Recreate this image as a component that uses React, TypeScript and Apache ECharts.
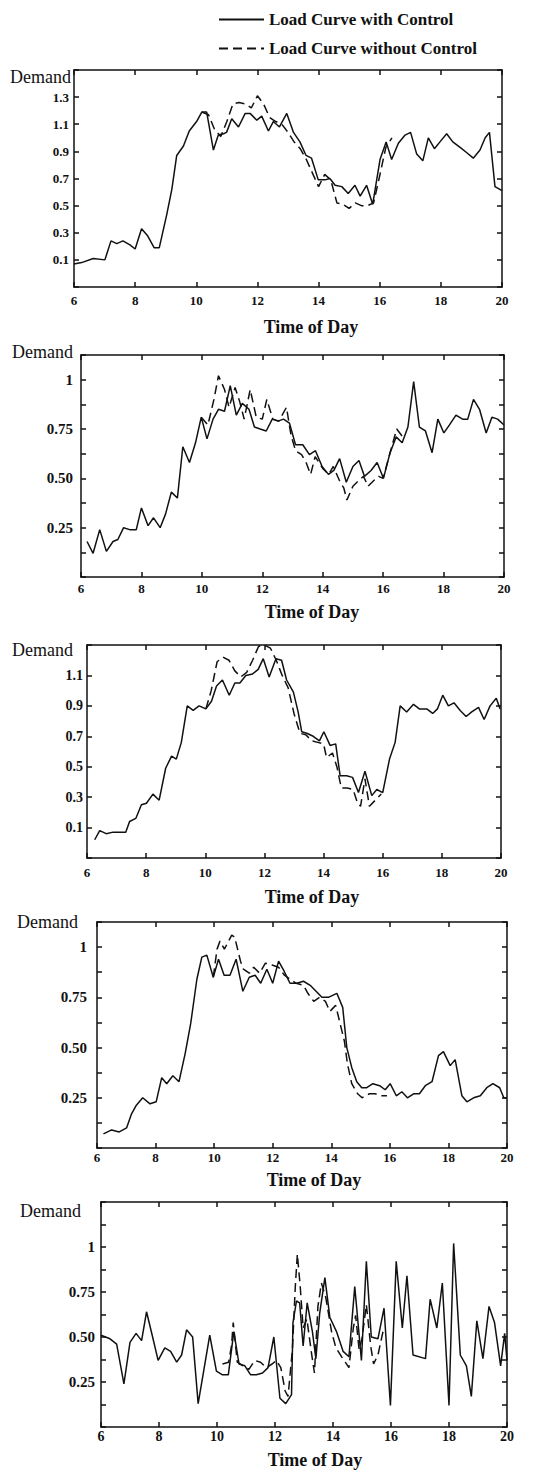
import React, { useEffect, useRef } from "react";
import * as echarts from "echarts";

// ---------- data (hours, demand) ----------
const p1SolidT = [6.0,6.25,6.63,7.01,7.21,7.4,7.6,7.83,8.0,8.21,8.4,8.62,8.79,9.03,9.2,9.36,9.58,9.77,10.01,10.18,10.34,10.56,10.72,10.89,10.99,11.16,11.38,11.6,11.76,11.98,12.14,12.36,12.52,12.72,12.96,13.18,13.39,13.59,13.77,13.99,14.21,14.37,14.54,14.76,14.97,15.19,15.36,15.57,15.77,16.01,16.21,16.39,16.61,16.83,17.01,17.21,17.41,17.59,17.79,17.97,18.19,18.39,18.63,18.85,19.06,19.28,19.45,19.59,19.77,20.0];
const p1SolidV = [0.07,0.08,0.11,0.10,0.24,0.22,0.24,0.21,0.18,0.33,0.28,0.19,0.19,0.43,0.62,0.87,0.94,1.05,1.12,1.19,1.19,0.91,1.02,1.03,1.04,1.14,1.08,1.18,1.18,1.13,1.16,1.05,1.12,1.08,1.18,1.04,0.97,0.87,0.85,0.69,0.69,0.70,0.65,0.64,0.59,0.65,0.57,0.65,0.51,0.84,0.97,0.84,0.96,1.02,1.04,0.88,0.83,1.0,0.92,0.97,1.03,0.97,0.93,0.89,0.85,0.91,1.0,1.04,0.64,0.61];
const p1DashT = [10.18,10.4,10.6,10.8,11.0,11.2,11.4,11.6,11.8,12.0,12.2,12.4,12.6,12.8,13.0,13.2,13.4,13.6,13.8,14.0,14.2,14.4,14.6,14.8,15.0,15.2,15.4,15.6,15.8,16.0,16.2,16.4];
const p1DashV = [1.19,1.17,1.06,1.01,1.12,1.25,1.26,1.25,1.22,1.31,1.25,1.15,1.12,1.1,1.04,0.97,0.92,0.84,0.74,0.64,0.73,0.69,0.52,0.51,0.48,0.52,0.5,0.5,0.52,0.72,0.93,1.0];

const p2SolidT = [6.2,6.4,6.62,6.84,7.06,7.22,7.41,7.61,7.83,8.0,8.22,8.4,8.62,8.8,8.99,9.19,9.37,9.59,9.79,9.98,10.17,10.37,10.55,10.75,10.94,11.14,11.34,11.56,11.74,11.93,12.13,12.33,12.52,12.7,12.9,13.1,13.34,13.56,13.76,13.98,14.19,14.37,14.56,14.78,15.0,15.2,15.38,15.6,15.8,16.01,16.23,16.43,16.63,16.82,17.01,17.2,17.4,17.62,17.81,18.01,18.19,18.41,18.63,18.8,18.99,19.19,19.41,19.6,19.79,20.0];
const p2SolidV = [0.18,0.12,0.24,0.13,0.18,0.19,0.25,0.24,0.24,0.35,0.26,0.30,0.25,0.32,0.43,0.40,0.66,0.58,0.68,0.81,0.70,0.80,0.85,0.84,0.97,0.82,0.88,0.85,0.76,0.75,0.74,0.80,0.79,0.80,0.78,0.67,0.67,0.62,0.64,0.56,0.52,0.54,0.60,0.48,0.56,0.59,0.51,0.54,0.58,0.50,0.63,0.71,0.68,0.76,0.99,0.76,0.74,0.63,0.80,0.73,0.77,0.82,0.80,0.80,0.90,0.85,0.73,0.81,0.80,0.77];
const p2DashT = [9.98,10.2,10.4,10.55,10.75,10.9,11.1,11.25,11.4,11.6,11.8,12.0,12.15,12.35,12.55,12.8,12.95,13.1,13.3,13.45,13.6,13.75,14.0,14.2,14.35,14.55,14.7,14.8,15.0,15.2,15.35,15.5,15.7,15.85,16.0,16.23,16.45,16.65];
const p2DashV = [0.81,0.77,0.9,1.02,0.95,0.86,0.96,0.89,0.80,0.95,0.81,0.80,0.90,0.80,0.79,0.86,0.72,0.64,0.62,0.58,0.52,0.61,0.55,0.52,0.56,0.49,0.45,0.39,0.46,0.49,0.51,0.46,0.49,0.51,0.50,0.63,0.75,0.71];

const p3SolidT = [6.26,6.43,6.65,6.88,7.1,7.31,7.44,7.65,7.84,8.01,8.23,8.44,8.66,8.86,9.02,9.19,9.39,9.59,9.79,10.02,10.21,10.38,10.58,10.81,11.0,11.17,11.37,11.6,11.79,11.96,12.16,12.39,12.58,12.75,12.98,13.14,13.26,13.43,13.65,13.86,14.01,14.22,14.41,14.56,14.78,14.98,15.18,15.4,15.63,15.8,16.0,16.23,16.42,16.59,16.81,17.04,17.24,17.49,17.69,17.85,18.03,18.22,18.41,18.62,18.82,19.01,19.24,19.43,19.63,19.84,19.97];
const p3SolidV = [0.02,0.08,0.06,0.07,0.07,0.07,0.14,0.16,0.25,0.26,0.32,0.28,0.49,0.57,0.55,0.66,0.9,0.87,0.9,0.88,0.93,1.03,1.07,0.97,1.05,1.05,1.1,1.11,1.14,1.21,1.09,1.21,1.2,1.07,0.99,0.86,0.73,0.72,0.7,0.67,0.73,0.64,0.65,0.44,0.44,0.43,0.33,0.47,0.31,0.35,0.33,0.55,0.66,0.9,0.86,0.91,0.88,0.88,0.85,0.88,0.97,0.9,0.92,0.87,0.83,0.86,0.89,0.81,0.9,0.95,0.88];
const p3DashT = [10.02,10.2,10.4,10.6,10.8,11.0,11.2,11.4,11.6,11.8,12.0,12.2,12.4,12.6,12.8,13.0,13.2,13.4,13.6,13.8,14.0,14.1,14.3,14.45,14.6,14.8,15.0,15.15,15.25,15.4,15.55,15.75,15.95];
const p3DashV = [0.88,1.0,1.19,1.22,1.2,1.13,1.09,1.12,1.2,1.29,1.3,1.28,1.2,1.1,1.02,0.85,0.72,0.71,0.67,0.66,0.65,0.56,0.59,0.5,0.36,0.36,0.35,0.26,0.24,0.42,0.24,0.28,0.32];

const p4SolidT = [6.22,6.5,6.76,7.01,7.18,7.33,7.56,7.81,8.02,8.21,8.38,8.59,8.8,9.01,9.2,9.41,9.58,9.75,9.97,10.15,10.34,10.54,10.75,10.98,11.2,11.4,11.59,11.8,12.0,12.2,12.39,12.59,12.82,13.05,13.28,13.48,13.68,13.9,14.19,14.39,14.53,14.7,14.87,15.04,15.21,15.42,15.65,15.84,16.01,16.22,16.41,16.6,16.81,17.01,17.21,17.44,17.66,17.83,18.06,18.23,18.46,18.63,18.86,19.09,19.31,19.52,19.75,19.89,20.0];
const p4SolidV = [0.07,0.09,0.08,0.10,0.17,0.21,0.25,0.22,0.23,0.35,0.32,0.36,0.33,0.47,0.62,0.84,0.95,0.96,0.85,0.94,0.86,0.86,0.94,0.78,0.85,0.86,0.82,0.89,0.82,0.93,0.88,0.82,0.82,0.83,0.81,0.78,0.75,0.75,0.77,0.70,0.5,0.40,0.33,0.30,0.30,0.32,0.31,0.29,0.32,0.26,0.28,0.25,0.27,0.27,0.31,0.33,0.46,0.48,0.41,0.44,0.26,0.23,0.25,0.26,0.30,0.32,0.30,0.25,0.25];
const p4DashT = [9.97,10.1,10.2,10.35,10.6,10.7,10.9,11.0,11.2,11.35,11.55,11.75,12.0,12.2,12.4,12.6,12.8,13.05,13.2,13.4,13.6,13.8,13.95,14.15,14.3,14.45,14.55,14.7,14.9,15.05,15.3,15.5,15.7,15.9];
const p4DashV = [0.85,0.99,1.03,0.99,1.06,1.05,0.93,0.89,0.87,0.9,0.87,0.92,0.91,0.9,0.86,0.84,0.82,0.81,0.77,0.73,0.75,0.73,0.68,0.71,0.62,0.53,0.42,0.32,0.27,0.25,0.27,0.27,0.26,0.26];

const p5SolidT = [6.0,6.31,6.54,6.79,7.0,7.21,7.4,7.57,7.78,7.97,8.2,8.4,8.61,8.78,8.95,9.16,9.35,9.55,9.75,9.98,10.19,10.39,10.58,10.76,10.96,11.16,11.36,11.57,11.76,11.96,12.17,12.37,12.57,12.62,12.74,12.85,12.97,13.11,13.29,13.41,13.54,13.72,13.89,14.12,14.35,14.55,14.75,14.98,15.15,15.32,15.55,15.76,15.98,16.18,16.39,16.55,16.76,17.19,17.35,17.58,17.77,18.0,18.16,18.39,18.6,18.77,18.96,19.17,19.38,19.57,19.78,19.92,20.0];
const p5SolidV = [0.51,0.49,0.46,0.24,0.47,0.52,0.48,0.64,0.50,0.37,0.44,0.42,0.36,0.40,0.54,0.50,0.13,0.32,0.51,0.31,0.29,0.29,0.53,0.35,0.34,0.29,0.29,0.30,0.33,0.50,0.16,0.13,0.18,0.58,0.70,0.69,0.45,0.69,0.53,0.38,0.63,0.83,0.61,0.53,0.42,0.39,0.78,0.37,0.92,0.50,0.49,0.66,0.12,0.92,0.55,0.84,0.40,0.38,0.71,0.55,0.80,0.12,1.02,0.40,0.34,0.17,0.59,0.38,0.67,0.58,0.34,0.52,0.37];
const p5DashT = [10.19,10.4,10.5,10.56,10.7,10.9,11.1,11.3,11.5,11.7,11.9,12.05,12.2,12.35,12.45,12.6,12.7,12.77,12.87,12.97,13.1,13.25,13.36,13.48,13.6,13.75,13.95,14.1,14.3,14.55,14.7,14.78,14.9,15.0,15.15,15.3,15.4,15.55,15.75];
const p5DashV = [0.35,0.36,0.45,0.58,0.36,0.34,0.32,0.37,0.36,0.33,0.35,0.37,0.33,0.2,0.17,0.43,0.78,0.96,0.78,0.55,0.6,0.42,0.3,0.67,0.8,0.72,0.53,0.44,0.39,0.33,0.55,0.62,0.43,0.49,0.68,0.45,0.35,0.4,0.55];

const SOLID_NAME = "Load Curve with Control";
const DASH_NAME = "Load Curve without Control";
const X_TITLE = "Time of Day";
const Y_TITLE = "Demand";
const xTicks = { min: 6, max: 20, interval: 2 };

// ---------- layout / style ----------
const FONT = '"Liberation Serif", "Times New Roman", serif';
const INK = "#111";

const panels = [
  { left: 74, top: 70, width: 428, height: 217, yMin: -0.1, yMax: 1.5, yInt: 0.2, kind: "odd", yFont: 13, yMargin: 5, xMargin: 7, xFont: 13, demand: [10, 78], tod: [311, 327], solid: [p1SolidT, p1SolidV], dash: [p1DashT, p1DashV] },
  { left: 81, top: 355, width: 423, height: 222, yMin: 0, yMax: 1.125, yInt: 0.125, kind: "quarter", yFont: 15, yMargin: 8, xMargin: 5, xFont: 13, demand: [12, 353], tod: [312, 612], solid: [p2SolidT, p2SolidV], dash: [p2DashT, p2DashV] },
  { left: 87, top: 645, width: 414, height: 213, yMin: -0.1, yMax: 1.3, yInt: 0.2, kind: "odd", yFont: 14, yMargin: 4, xMargin: 8, xFont: 13, demand: [12, 651], tod: [312, 897], solid: [p3SolidT, p3SolidV], dash: [p3DashT, p3DashV] },
  { left: 97, top: 922, width: 410, height: 226, yMin: 0, yMax: 1.125, yInt: 0.125, kind: "quarter", yFont: 15, yMargin: 10, xMargin: 3, xFont: 13, demand: [17, 923], tod: [314, 1180], solid: [p4SolidT, p4SolidV], dash: [p4DashT, p4DashV] },
  { left: 101, top: 1202, width: 406, height: 225, yMin: 0, yMax: 1.25, yInt: 0.125, kind: "quarter", yFont: 15, yMargin: 6, xMargin: 2, xFont: 14, demand: [20, 1212], tod: [315, 1460], solid: [p5SolidT, p5SolidV], dash: [p5DashT, p5DashV] },
];

const quarterLabels: Record<string, string> = { "0.25": "0.25", "0.5": "0.50", "0.75": "0.75", "1": "1" };

function pairs(t: number[], v: number[]) {
  return t.map((x, i) => [x, v[i]]);
}

function buildOption() {
  const grid: any[] = [];
  const xAxis: any[] = [];
  const yAxis: any[] = [];
  const series: any[] = [];
  const graphic: any[] = [];

  panels.forEach((p, i) => {
    grid.push({ left: p.left, top: p.top, width: p.width, height: p.height, containLabel: false });
    const line = { show: true, onZero: false, lineStyle: { color: INK, width: 1.5 } };
    const tick = { show: true, inside: true, length: 5, lineStyle: { color: INK, width: 1.5 } };
    xAxis.push({
      type: "value", gridIndex: i, position: "bottom", ...xTicks,
      axisLine: line, axisTick: tick, splitLine: { show: false },
      axisLabel: { margin: p.xMargin, color: INK, fontFamily: FONT, fontWeight: "bold", fontSize: p.xFont, showMinLabel: true, showMaxLabel: true },
    });
    xAxis.push({
      type: "value", gridIndex: i, position: "top", ...xTicks,
      axisLine: line, axisTick: tick, splitLine: { show: false }, axisLabel: { show: false },
    });
    const fmt = (v: number) => {
      if (p.kind === "odd") {
        const r = Math.round(v * 10) / 10;
        return r > 0 && r < p.yMax - 0.05 ? r.toFixed(1) : "";
      }
      const r = Math.round(v * 1000) / 1000;
      return quarterLabels[String(r)] || "";
    };
    yAxis.push({
      type: "value", gridIndex: i, position: "left", min: p.yMin, max: p.yMax, interval: p.yInt,
      axisLine: line, axisTick: tick, splitLine: { show: false },
      axisLabel: { formatter: fmt, margin: p.yMargin, color: INK, fontFamily: FONT, fontWeight: "bold", fontSize: p.yFont, showMinLabel: true, showMaxLabel: true },
    });
    yAxis.push({
      type: "value", gridIndex: i, position: "right", min: p.yMin, max: p.yMax, interval: p.yInt,
      axisLine: line, axisTick: tick, splitLine: { show: false }, axisLabel: { show: false },
    });
    series.push({
      name: DASH_NAME, type: "line", xAxisIndex: 2 * i, yAxisIndex: 2 * i,
      data: pairs(p.dash[0], p.dash[1]), symbol: "none", showSymbol: false, clip: true,
      lineStyle: { color: INK, width: 1.5, type: [9, 5] }, itemStyle: { color: INK },
      z: 2,
    });
    series.push({
      name: SOLID_NAME, type: "line", xAxisIndex: 2 * i, yAxisIndex: 2 * i,
      data: pairs(p.solid[0], p.solid[1]), symbol: "none", showSymbol: false, clip: true,
      lineStyle: { color: INK, width: 1.5, type: "solid" }, itemStyle: { color: INK },
      z: 3,
    });
    graphic.push({
      type: "text", left: p.demand[0], top: p.demand[1] - 10,
      style: { text: Y_TITLE, fill: INK, font: `18px ${FONT}` },
    });
    graphic.push({
      type: "text", x: p.tod[0], y: p.tod[1],
      style: { text: X_TITLE, fill: INK, font: `bold 18px ${FONT}`, align: "center", verticalAlign: "middle" },
    });
  });

  return {
    animation: false,
    backgroundColor: "#fff",
    legend: {
      orient: "vertical", left: 213, top: 6, itemWidth: 45, itemHeight: 14, itemGap: 12,
      data: [SOLID_NAME, DASH_NAME],
      itemStyle: { opacity: 0, borderWidth: 0 },
      textStyle: { color: INK, fontFamily: FONT, fontWeight: "bold", fontSize: 17 },
      selectedMode: false,
    },
    grid, xAxis, yAxis, series, graphic,
  };
}

export default function App() {
  const ref = useRef<HTMLDivElement>(null);
  useEffect(() => {
    if (!ref.current) return;
    const chart = echarts.init(ref.current, undefined, { renderer: "svg" });
    chart.setOption(buildOption() as any);
    return () => chart.dispose();
  }, []);
  return <div ref={ref} style={{ position: "absolute", left: 0, top: 0, width: 553, height: 1471, background: "#fff" }} />;
}
